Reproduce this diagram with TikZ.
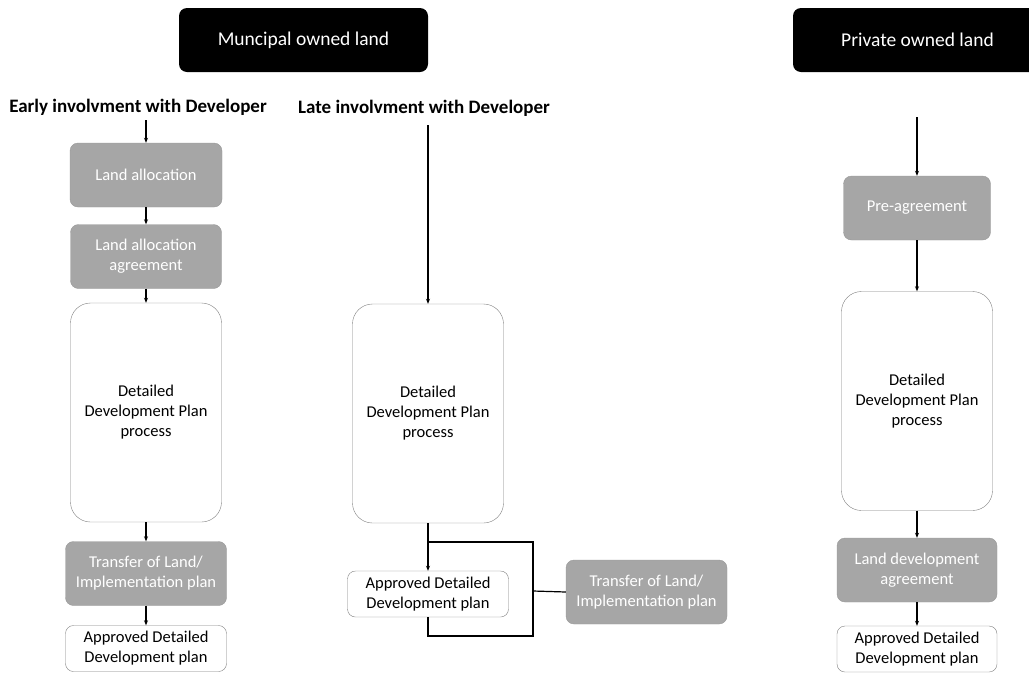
\documentclass[tikz,border=0pt]{standalone}
\usepackage{fontspec}
\setmainfont{Carlito}
\usepackage{tikz}
\usetikzlibrary{arrows.meta,positioning,calc}

\tikzset{
    headbox/.style={fill=black, text=white, rounded corners=8pt, minimum width=249pt,
        minimum height=64pt, font=\fontsize{19.5}{23}\selectfont},
    involve/.style={font=\bfseries\fontsize{19}{22}\selectfont},
    greybox/.style={draw=gray!80, fill=gray!70, text=white, rounded corners=8pt,
        align=center, minimum height=64pt, font=\fontsize{16.5}{20}\selectfont},
    whitebox/.style={draw=gray, fill=white, rounded corners=8pt, align=center,
        minimum height=46pt, font=\fontsize{16.5}{20}\selectfont},
    tallbox/.style={draw=gray, fill=white, rounded corners=20pt, align=center,
        minimum width=151pt, minimum height=219pt, font=\fontsize{16.5}{20}\selectfont},
    flow/.style={line width=1.2pt, -{Stealth[length=5pt,width=4pt]}},
    link/.style={line width=1.2pt}
}

\begin{document}
\begin{tikzpicture}[x=1pt, y=-1pt]

    \useasboundingbox (0,0) rectangle (1029,673);
    \clip (0,0) rectangle (1029,673);

    % ---------------- Headers ----------------
    \node[headbox] (muni) at (303.5,40) {Muncipal owned land};
    \node[headbox] (priv) at (917.5,40) {Private owned land};

    \node[involve] (early) at (138,107) {Early involvment with Developer};
    \node[involve] (late) at (424,108) {Late involvment with Developer};

    % ---------------- Early involvement ----------------
    \coordinate (etop) at (146,120);
    \node[greybox, minimum width=152pt] (alloc) at (146,175) {Land allocation};
    \node[greybox, minimum width=151pt] (allocagr) at (146,256.5) {Land allocation\\agreement};
    \node[tallbox] (eddp) at (146,412.5) {Detailed\\Development Plan\\process};
    \node[greybox, minimum width=161pt] (etrans) at (146,573.5) {Transfer of Land/\\Implementation plan};
    \node[whitebox, minimum width=161pt] (eappr) at (146,648.5) {Approved Detailed\\Development plan};

    \draw[flow] (etop) -- (alloc);
    \draw[flow] (alloc) -- (allocagr);
    \draw[flow] (allocagr) -- (eddp);
    \draw[flow] (eddp) -- (etrans);
    \draw[flow] (etrans) -- (eappr);

    % ---------------- Late involvement ----------------
    \coordinate (ltop) at (428,125);
    \node[tallbox] (lddp) at (428,413.5) {Detailed\\Development Plan\\process};
    \node[whitebox, minimum width=161pt] (lappr) at (428,594) {Approved Detailed\\Development plan};
    \node[greybox, minimum width=161pt] (ltrans) at (646.5,592) {Transfer of Land/\\Implementation plan};

    \draw[flow] (ltop) -- (lddp);
    \draw[flow] (lddp) -- (lappr);

    % loop round the approved plan
    \coordinate (split) at (428,542);
    \coordinate (rtop) at (533,542);
    \coordinate (rbot) at (533,636);
    \coordinate (back) at (428,636);
    \draw[link] (split) -- (rtop) -- (rbot) -- (back) -- (lappr.south);
    \draw[link] (533,591) -- (ltrans.west);

    % ---------------- Private owned land ----------------
    \coordinate (ptop) at (917,117);
    \node[greybox, minimum width=147pt] (pre) at (917,208) {Pre-agreement};
    \node[tallbox] (pddp) at (917,401) {Detailed\\Development Plan\\process};
    \node[greybox, minimum width=160pt] (landdev) at (917,570) {Land development\\agreement};
    \node[whitebox, minimum width=160pt] (pappr) at (917,649) {Approved Detailed\\Development plan};

    \draw[flow] (ptop) -- (pre);
    \draw[flow] (pre) -- (pddp);
    \draw[flow] (pddp) -- (landdev);
    \draw[flow] (landdev) -- (pappr);

\end{tikzpicture}
\end{document}
